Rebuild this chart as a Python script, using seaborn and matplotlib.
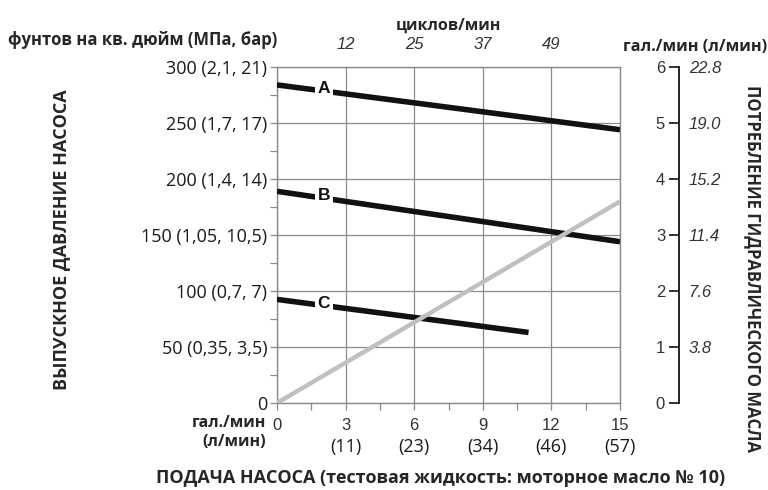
import matplotlib
matplotlib.use("Agg")
import matplotlib.pyplot as plt
import seaborn as sns
import numpy as np
import pandas as pd

# ---------------- data ----------------
flow_gpm = [0, 15]
line_a_psi = [284, 244]
line_b_psi = [189, 144]
flow_c_gpm = [0, 11]
line_c_psi = [92.5, 63]
consumption_gpm = [0, 3.6]          # hydraulic oil consumption (right axis)

curve_labels = ["A", "B", "C"]
label_x = 2.05

psi_ticks = [0, 50, 100, 150, 200, 250, 300]
psi_labels = ["0", "50 (0,35, 3,5)", "100 (0,7, 7)", "150 (1,05, 10,5)",
              "200 (1,4, 14)", "250 (1,7, 17)", "300 (2,1, 21)"]
flow_ticks = [0, 3, 6, 9, 12, 15]
flow_labels = ["0", "3", "6", "9", "12", "15"]
flow_l_ticks = [3, 6, 9, 12, 15]
flow_l_labels = ["(11)", "(23)", "(34)", "(46)", "(57)"]
cpm_ticks = [3, 6, 9, 12]
cpm_labels = ["12", "25", "37", "49"]
cons_ticks = [0, 1, 2, 3, 4, 5, 6]
cons_labels = ["0", "1", "2", "3", "4", "5", "6"]
cons_l_ticks = [1, 2, 3, 4, 5, 6]
cons_l_labels = ["3.8", "7.6", "11.4", "15.2", "19.0", "22.8"]

# ---------------- style ----------------
sns.set_theme(style="white")
plt.rcParams["font.family"] = ["Open Sans", "DejaVu Sans"]
HELV = ["Liberation Sans", "DejaVu Sans"]

W, H = 768, 490
fig = plt.figure(figsize=(W / 100, H / 100), dpi=100)
L, R, T, B = 277, 620, 67, 403
ax = fig.add_axes([L / W, 1 - B / H, (R - L) / W, (B - T) / H])

GRID = "#8a8a8a"
ax.set_xlim(0, 15)
ax.set_ylim(0, 300)
for s in ax.spines.values():
    s.set_color(GRID)
    s.set_linewidth(1.0)

ax.set_yticks(psi_ticks, labels=psi_labels)
ax.set_yticks(np.arange(0, 301, 25), minor=True)
ax.set_xticks(flow_ticks, labels=flow_labels)
ax.set_xticks(np.arange(0, 15.1, 1.5), minor=True)
ax.grid(True, which="major", color=GRID, linewidth=0.9)
ax.tick_params(axis="both", which="both", direction="out", length=5,
               width=0.9, color=GRID, left=True, bottom=True)
ax.tick_params(axis="y", which="major", pad=2, labelsize=13, labelcolor="#1a1a1a")
ax.tick_params(axis="x", which="major", pad=6, labelsize=12, labelcolor="#333333")
for t in ax.get_xticklabels():
    t.set_family(HELV)

# ---------------- curves ----------------
black_lw = 4.0
df_a = pd.DataFrame({"flow": flow_gpm, "psi": line_a_psi})
df_b = pd.DataFrame({"flow": flow_gpm, "psi": line_b_psi})
df_c = pd.DataFrame({"flow": flow_c_gpm, "psi": line_c_psi})
for df, lab in zip([df_a, df_b, df_c], curve_labels):
    sns.lineplot(data=df, x="flow", y="psi", ax=ax, color="#111111",
                 linewidth=black_lw, solid_capstyle="butt", zorder=4)
    ly = np.interp(label_x, df["flow"], df["psi"])
    ax.text(label_x, ly + 2, lab, ha="center", va="center", fontsize=12.5,
            fontweight="bold", family=HELV, color="#111111", zorder=5,
            bbox=dict(boxstyle="square,pad=0.18", fc="white", ec="none"))
ax.set_xlabel("")
ax.set_ylabel("")

# ---------------- right axis (oil consumption) ----------------
pos = (679 - L) / (R - L)
ax3 = ax.twinx()
ax3.set_ylim(0, 6)
df_g = pd.DataFrame({"flow": flow_gpm, "gpm": consumption_gpm})
sns.lineplot(data=df_g, x="flow", y="gpm", ax=ax3, color="#c0c0c0",
             linewidth=3.2, solid_capstyle="butt", zorder=3)
ax3.set_ylabel("")
ax3.set_xlabel("")
for s in ["top", "bottom", "right"]:
    ax3.spines[s].set_visible(False)
ax3.spines["left"].set_visible(True)
ax3.spines["left"].set_position(("axes", pos))
ax3.spines["left"].set_color("#111111")
ax3.spines["left"].set_linewidth(1.3)
ax3.yaxis.set_ticks_position("left")
ax3.yaxis.set_label_position("left")
ax3.set_yticks(cons_ticks, labels=cons_labels)
ax3.tick_params(axis="y", direction="out", length=7, width=1.2, color="#111111",
                left=True, right=False, labelleft=True, labelright=False,
                pad=3, labelsize=12, labelcolor="#333333")
for t in ax3.get_yticklabels():
    t.set_family(HELV)

ax4 = ax.twinx()
ax4.set_ylim(0, 6)
for s in ax4.spines.values():
    s.set_visible(False)
ax4.spines["right"].set_position(("axes", pos))
ax4.set_yticks(cons_l_ticks, labels=cons_l_labels)
ax4.tick_params(axis="y", length=0, pad=7, labelsize=12, labelcolor="#333333")
for t in ax4.get_yticklabels():
    t.set_family(HELV)
    t.set_style("italic")

# ---------------- top axis (cycles/min) ----------------
top = ax.secondary_xaxis("top")
top.set_xticks(cpm_ticks, labels=cpm_labels)
top.tick_params(axis="x", length=0, pad=11, labelsize=12, labelcolor="#333333")
top.spines["top"].set_visible(False)
for t in top.get_xticklabels():
    t.set_family(HELV)
    t.set_style("italic")
top.set_xlabel("циклов/мин", fontsize=11.5, fontweight="bold", labelpad=5)

# ---------------- bottom litres row ----------------
bot = ax.secondary_xaxis("bottom")
bot.set_xticks(flow_l_ticks, labels=flow_l_labels)
bot.tick_params(axis="x", length=0, pad=25, labelsize=13, labelcolor="#1a1a1a")
bot.spines["bottom"].set_visible(False)

# ---------------- titles ----------------
def ft(x, y, s, **kw):
    fig.text(x / W, 1 - y / H, s, **kw)

ft(143, 40, "фунтов на кв. дюйм (МПа, бар)", ha="center", va="center",
   fontsize=12, fontweight="bold")
ft(695, 47, "гал./мин (л/мин)", ha="center", va="center",
   fontsize=11.7, fontweight="bold")
ft(266, 423, "гал./мин", ha="right", va="center", fontsize=11.5, fontweight="bold")
ft(266, 442, "(л/мин)", ha="right", va="center", fontsize=11.5, fontweight="bold")
ft(441, 478, "ПОДАЧА НАСОСА (тестовая жидкость: моторное масло № 10)",
   ha="center", va="center", fontsize=13, fontweight="bold")
ft(61, 240, "ВЫПУСКНОЕ ДАВЛЕНИЕ НАСОСА", ha="center", va="center",
   rotation=90, fontsize=13, fontweight="bold")
ft(753, 268, "ПОТРЕБЛЕНИЕ ГИДРАВЛИЧЕСКОГО МАСЛА", ha="center", va="center",
   rotation=270, fontsize=12, fontweight="bold")

fig.savefig("out.png", dpi=100)
